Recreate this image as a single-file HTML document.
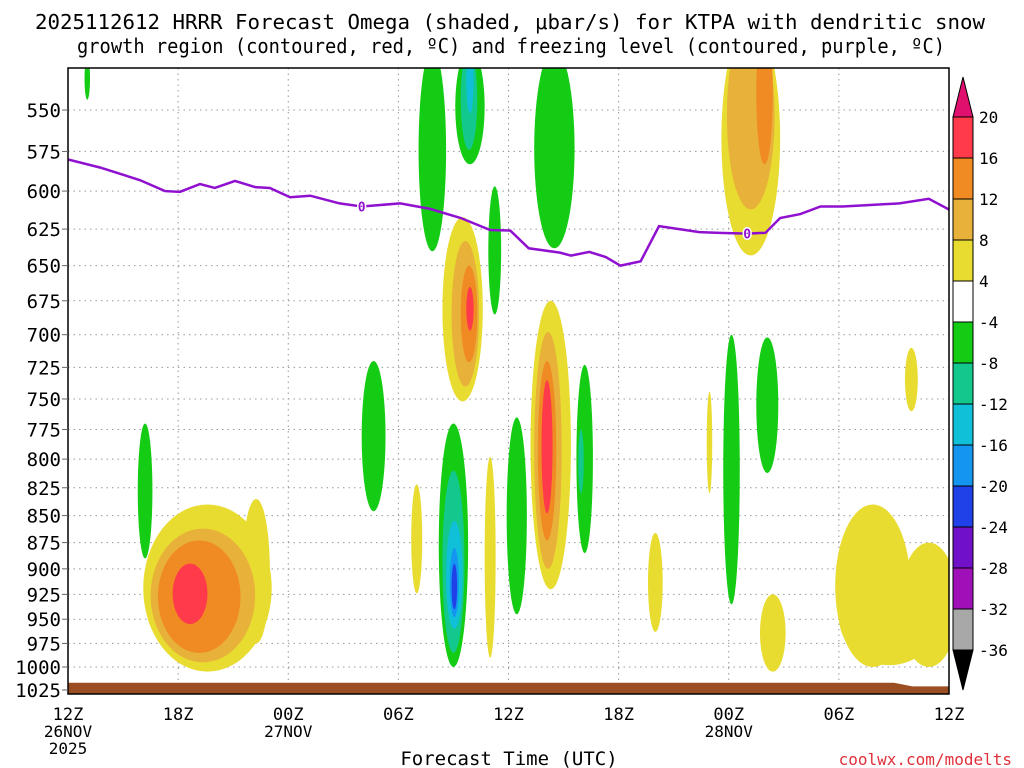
<!DOCTYPE html>
<html><head><meta charset="utf-8"><style>
body{margin:0;background:#fff;width:1024px;height:768px;overflow:hidden}
svg{display:block;font-family:"DejaVu Sans Mono","Liberation Mono",monospace}
</style></head><body>
<svg id="chart" width="1024" height="768">
<text x="35" y="29" font-size="20" textLength="950" lengthAdjust="spacingAndGlyphs">2025112612 HRRR Forecast Omega (shaded, μbar/s) for KTPA with dendritic snow</text>
<text x="77" y="53" font-size="20" textLength="868" lengthAdjust="spacingAndGlyphs">growth region (contoured, red, ºC) and freezing level (contoured, purple, ºC)</text>
<defs><clipPath id="pc"><rect x="68" y="68" width="881" height="626"/></clipPath></defs>
<g id="grid"></g>
<g id="shade" clip-path="url(#pc)"></g>
<g id="frz" clip-path="url(#pc)"></g>
<rect x="68" y="68" width="881" height="626" fill="none" stroke="#000" stroke-width="1.5"/>
<g id="yaxis"></g>
<g id="xaxis"></g>
<g id="cbar"></g>
<text x="509" y="765" text-anchor="middle" font-size="19">Forecast Time (UTC)</text>
<text x="1012" y="765" text-anchor="end" font-size="16" fill="#e0303a">coolwx.com/modelts</text>
</svg>
<script>
const pressureTicks=[550,575,600,625,650,675,700,725,750,775,800,825,850,875,900,925,950,975,1000,1025];
const hourTicks=[0,6,12,18,24,30,36,42,48];
const hourLabels=['12Z','18Z','00Z','06Z','12Z','18Z','00Z','06Z','12Z'];
const dateLabels=[[0,'26NOV'],[12,'27NOV'],[36,'28NOV']];
const cbLevels=[20,16,12,8,4,-4,-8,-12,-16,-20,-24,-28,-32,-36];
const cbColors=['#ff3a4a','#f08a22','#e8b13a','#e8dc30','#ffffff','#14cc14','#12c88c','#10c0d8','#1496f0','#2040e8','#7010c8','#a010b8','#a8a8a8'];
const lvlColor={1:'#e8dc30',2:'#e8b13a',3:'#f08a22',4:'#ff3a4a',5:'#e0106e','-1':'#14cc14','-2':'#12c88c','-3':'#10c0d8','-4':'#1496f0','-5':'#2040e8'};
// contour regions: [level, hourStart, hourEnd, pressureTop, pressureBottom]
const regions=[
[-1,0.9,1.2,520,544],
[-1,3.8,4.6,770,890],
[1,4.1,11.1,840,1005],[1,9.5,11.0,835,975],[2,4.5,10.2,862,995],[3,4.9,9.4,873,985],[4,5.7,7.6,895,955],
[-1,19.1,20.6,515,640],
[-1,21.1,22.7,515,583],[-2,21.4,22.3,515,574],[-3,21.7,22.1,515,552],
[-1,22.9,23.6,597,685],
[1,20.4,22.6,617,752],[2,20.9,22.4,633,740],[3,21.4,22.3,650,721],[4,21.7,22.1,665,697],
[-1,16.0,17.3,720,846],
[1,18.7,19.3,822,924],
[-1,20.2,21.8,770,1000],[-2,20.4,21.6,810,985],[-3,20.6,21.5,855,960],[-4,20.8,21.3,880,948],[-5,20.9,21.2,895,940],
[1,22.7,23.3,798,990],
[-1,23.9,25.0,765,945],
[1,25.2,27.4,675,920],[2,25.4,26.9,698,900],[3,25.6,26.6,720,873],[4,25.8,26.4,735,848],
[-1,25.4,27.6,515,638],
[-1,27.7,28.6,723,885],[-2,27.8,28.1,775,830],
[1,31.6,32.4,866,963],
[1,34.8,35.1,744,830],
[-1,35.7,36.6,700,935],
[-1,37.5,38.7,702,812],
[1,35.6,38.8,500,643],[2,35.9,38.5,500,612],[3,37.5,38.4,500,583],
[1,37.7,39.1,925,1005],
[1,45.6,46.3,710,760],
[1,41.8,45.9,840,1000],[1,42.0,47.5,900,998],[1,45.3,48.5,875,1000]
];
const frzHours=[0,1.74,3.92,5.28,6.1,7.19,8.0,9.1,10.2,11.0,12.1,13.2,14.8,16.0,18.1,19.7,21.4,23.0,24.1,25.1,26.8,27.4,28.4,29.3,30.1,31.2,32.2,33.3,34.4,35.5,37.0,38.0,38.8,39.9,41.0,42.2,43.7,45.3,46.9,48];
const frzPress=[580,585,593,600,600.5,595.5,598,593.5,597.5,598,604,603,608,610,608,611.5,617.6,625.6,626,638,641,643,640.5,644,650,647,623,625,627,627.5,628,627.5,617.6,615,610,610,609,608,605,612];
const frzLabels=[16.0,37.0];

const X0=68,X1=949,Y0=68,Y1=694;
const xS=h=>X0+h*(X1-X0)/48;
const yS=p=>110+931.7*Math.log(p/550);
const NS='http://www.w3.org/2000/svg';
function mk(parent,tag,attrs){const e=document.createElementNS(NS,tag);for(const k in attrs)e.setAttribute(k,attrs[k]);document.getElementById(parent).appendChild(e);return e;}

pressureTicks.forEach(p=>{
 const l=mk('grid','line',{x1:X0,x2:X1,y1:yS(p),y2:yS(p),stroke:'#999','stroke-dasharray':'1.5,4'});
 
 
 const tk=mk('yaxis','line',{x1:62,x2:68,y1:yS(p),y2:yS(p),stroke:'#666'});
 
 
 const t=mk('yaxis','text',{x:61,y:yS(p)+7,'text-anchor':'end','font-size':19});
 t.textContent=p;
 
 
});
hourTicks.forEach((h,i)=>{
 if(i>0&&i<hourTicks.length-1){const l=mk('grid','line',{x1:xS(h),x2:xS(h),y1:Y0,y2:Y1,stroke:'#999','stroke-dasharray':'1.5,4'});
 
 }
 const t=mk('xaxis','text',{x:xS(h),y:720,'text-anchor':'middle','font-size':17});
 t.textContent=hourLabels[i];
 
 
});
dateLabels.forEach(d=>{
 const t=mk('xaxis','text',{x:xS(d[0]),y:737,'text-anchor':'middle','font-size':16});
 t.textContent=d[1];
 
 
});
const yr=mk('xaxis','text',{x:xS(0),y:754,'text-anchor':'middle','font-size':16});yr.textContent='2025';



regions.forEach(r=>{
 const xa=xS(r[1]),xb=xS(r[2]),ya=yS(r[3]),yb=yS(r[4]);
 const e=mk('shade','ellipse',{cx:(xa+xb)/2,cy:(ya+yb)/2,rx:(xb-xa)/2,ry:(yb-ya)/2,fill:lvlColor[r[0]]});
 
 
});
const g=mk('shade','polygon',{points:`${X0},${yS(1017)} ${xS(45)},${yS(1017)} ${xS(46)},${yS(1021)} ${X1},${yS(1021)} ${X1},${Y1} ${X0},${Y1}`,fill:'#9a4e22'});



const pts=frzHours.map((h,i)=>xS(h)+','+yS(frzPress[i])).join(' ');
const pl=mk('frz','polyline',{points:pts,fill:'none',stroke:'#9010d0','stroke-width':2.5});


frzLabels.forEach(h=>{
 let i=frzHours.findIndex(v=>v>=h);const p=frzPress[i];
 const t=mk('frz','text',{x:xS(h),y:yS(p)+5,'text-anchor':'middle','font-size':13,fill:'#9010d0','font-weight':'bold',stroke:'#fff','stroke-width':3,'paint-order':'stroke'});
 t.textContent='0';
 
 
});

// colorbar: equally spaced bins
const cbY=i=>117+i*41;
const cbx=953,cbw=20;
for(let i=0;i<cbColors.length;i++){
 const r=mk('cbar','rect',{x:cbx,y:cbY(i),width:cbw,height:41,fill:cbColors[i],stroke:'#000','stroke-width':1});
 
 
}
const tt=mk('cbar','polygon',{points:`${cbx},${cbY(0)} ${cbx+cbw},${cbY(0)} ${cbx+cbw/2},${cbY(0)-40}`,fill:'#e0106e',stroke:'#000'});


const last=cbLevels.length-1;
const bt=mk('cbar','polygon',{points:`${cbx},${cbY(last)} ${cbx+cbw},${cbY(last)} ${cbx+cbw/2},${cbY(last)+40}`,fill:'#000',stroke:'#000'});


cbLevels.forEach((v,i)=>{
 const t=mk('cbar','text',{x:979,y:cbY(i)+6,'font-size':16});
 t.textContent=v;
 
 
});
</script>
</body></html>
